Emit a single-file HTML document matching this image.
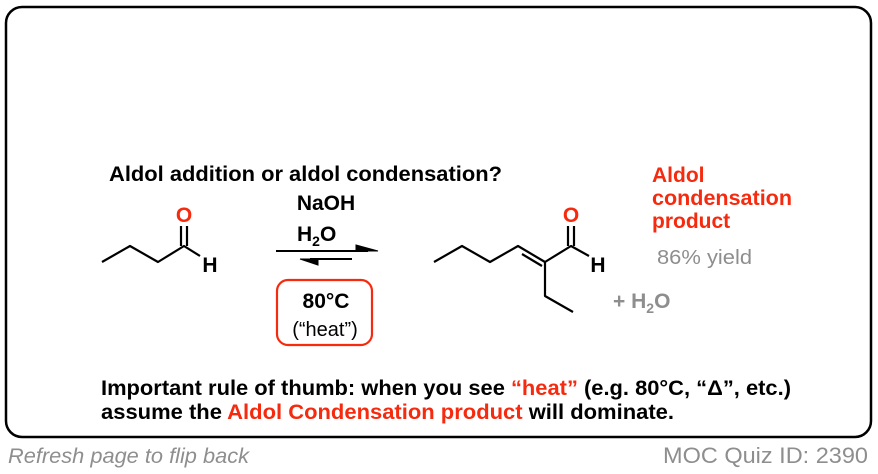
<!DOCTYPE html>
<html><head><style>
body{margin:0;width:878px;height:474px;background:#fff;overflow:hidden}
svg{display:block}
text{font-family:"Liberation Sans",Arial,sans-serif}
</style></head><body>
<svg width="878" height="474" viewBox="0 0 878 474">
<rect x="6" y="7" width="865" height="430" rx="16" fill="#fff" stroke="#000" stroke-width="2.5"/>
<text x="109" y="181" font-size="21" font-weight="bold" textLength="393" lengthAdjust="spacingAndGlyphs">Aldol addition or aldol condensation?</text>
<!-- reactant -->
<g stroke="#000" stroke-width="2.2" fill="none" stroke-linejoin="round">
<polyline points="102,262 130,246 158,262 184,246 200,256"/>
<line x1="181" y1="246" x2="181" y2="226"/><line x1="187" y1="246" x2="187" y2="226"/>
</g>
<text x="184" y="222" font-size="21" font-weight="bold" fill="#f52a0e" text-anchor="middle">O</text>
<text x="210" y="272" font-size="21" font-weight="bold" text-anchor="middle">H</text>
<!-- reagents -->
<text x="326" y="210" font-size="21" font-weight="bold" text-anchor="middle">NaOH</text>
<text x="297" y="241" font-size="21" font-weight="bold">H<tspan font-size="14" dy="5">2</tspan><tspan dy="-5">O</tspan></text>
<g stroke="#000" stroke-width="2" fill="#000">
<line x1="276" y1="251" x2="368" y2="251"/>
<polygon points="356,245 378,251 356,251" stroke-width="1"/>
<line x1="310" y1="259" x2="352" y2="259"/>
<polygon points="318,259 300,259 318,265" stroke-width="1"/>
</g>
<rect x="277" y="280" width="95" height="65" rx="11" fill="none" stroke="#f52a0e" stroke-width="2.2"/>
<text x="326" y="308" font-size="21" font-weight="bold" text-anchor="middle">80°C</text>
<text x="325" y="336" font-size="20" text-anchor="middle">(“heat”)</text>
<!-- product -->
<g stroke="#000" stroke-width="2.2" fill="none" stroke-linejoin="round">
<polyline points="434,262 462,246 490,262 518,246 545,262 571,246 589,256"/>
<line x1="522" y1="254" x2="542" y2="266"/>
<polyline points="545,262 545,296 573,312"/>
<line x1="568" y1="246" x2="568" y2="226"/><line x1="574" y1="246" x2="574" y2="226"/>
</g>
<text x="571" y="222" font-size="21" font-weight="bold" fill="#f52a0e" text-anchor="middle">O</text>
<text x="598" y="272" font-size="21" font-weight="bold" text-anchor="middle">H</text>
<text x="613" y="308" font-size="21" font-weight="bold" fill="#8e8e8e">+ H<tspan font-size="14" dy="5">2</tspan><tspan dy="-5">O</tspan></text>
<text x="652" y="182" font-size="21" font-weight="bold" fill="#f52a0e">Aldol</text>
<text x="652" y="205" font-size="21" font-weight="bold" fill="#f52a0e" textLength="140" lengthAdjust="spacingAndGlyphs">condensation</text>
<text x="652" y="228" font-size="21" font-weight="bold" fill="#f52a0e">product</text>
<text x="657" y="264" font-size="20" fill="#8e8e8e" textLength="95" lengthAdjust="spacingAndGlyphs">86% yield</text>
<text x="101" y="395" font-size="21" font-weight="bold" textLength="690" lengthAdjust="spacingAndGlyphs">Important rule of thumb: when you see <tspan fill="#f52a0e">“heat”</tspan> (e.g. 80°C, “Δ”, etc.)</text>
<text x="101" y="419" font-size="21" font-weight="bold" textLength="573" lengthAdjust="spacingAndGlyphs">assume the <tspan fill="#f52a0e">Aldol Condensation product</tspan> will dominate.</text>
<text x="8" y="463" font-size="21" font-style="italic" fill="#8e8e8e" textLength="241" lengthAdjust="spacingAndGlyphs">Refresh page to flip back</text>
<text x="663" y="463" font-size="22" fill="#8e8e8e" textLength="205" lengthAdjust="spacingAndGlyphs">MOC Quiz ID: 2390</text>
</svg>
</body></html>
